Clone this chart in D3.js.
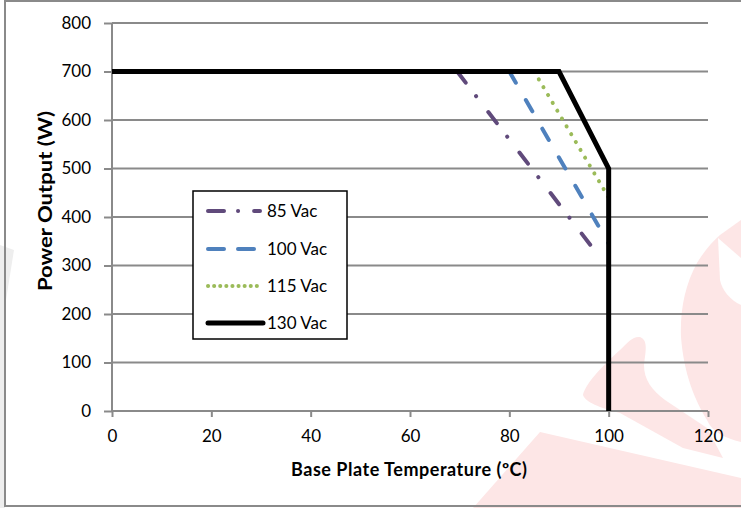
<!DOCTYPE html>
<html>
	<head>
		<meta charset="utf-8" />
		<title>Derating</title>
		<style type="text/css">
			body { margin: 0; background: #fff; }
			svg text { font-family: Lato, "Open Sans", sans-serif; fill: #000; }
		</style>
	</head>
	<body>
		<svg width="741" height="508"></svg>

		<script type="text/javascript" src="https://cdn.jsdelivr.net/npm/d3@7"></script>
		<script type="text/javascript">
			// data
			var xTicks = [0, 20, 40, 60, 80, 100, 120];
			var yTicks = [0, 100, 200, 300, 400, 500, 600, 700, 800];
			var seriesNames = ["85 Vac", "100 Vac", "115 Vac", "130 Vac"];
			var temp85 = [69.5, 98], power85 = [700, 320];
			var temp100 = [80, 100], power100 = [700, 345];
			var temp115 = [85, 100], power115 = [700, 440];
			var temp130 = [0, 90, 100, 100], power130 = [700, 700, 500, 0];

			var colors = ["#604a7b", "#4f81bd", "#9bbb59", "#000000"];
			var dashes = ["14,17,0.1,20", "13,20", "0.1,9", null];
			var widths = [4, 4, 4, 5];

			var svg = d3.select("svg");
			var x = d3.scaleLinear().domain([0, 120]).range([112, 708]);
			var y = d3.scaleLinear().domain([0, 800]).range([411, 23]);

			// faint logo watermark behind the chart
			var wm = svg.append("g").attr("fill", "#fde6e6");
			wm.append("path")
				.attr("d", "M720,235 L741,220 L741,442 C725,438 712,432 707,420 C695,400 684,375 681,337 C680,310 685,285 697,263 C705,250 712,242 720,235 Z");
			wm.append("path").attr("fill", "#fff")
				.attr("d", "M718,238 L741,258 L741,305 C730,300 722,290 720,280 Z");
			wm.append("path")
				.attr("d", "M583,395 C585,385 600,368 620,350 C628,342 633,336 640,337 C648,340 646,350 644,365 C644,380 652,390 665,400 L707,428 L723,458 L683,448 L620,413 C600,408 585,402 583,395 Z");
			wm.append("path")
				.attr("d", "M473,508 L540,432 L741,478 L741,508 Z");
			wm.append("path").attr("fill", "#eeeeee")
				.attr("d", "M0,245 L14,250 L6,300 L5,508 L0,508 Z");

			// outer frame
			svg.append("rect").attr("x", 5).attr("y", 1).attr("width", 745).attr("height", 505)
				.attr("fill", "none").attr("stroke", "#8a8a8a").attr("stroke-width", 2);

			// grid
			svg.append("g").selectAll("line").data(yTicks.filter(function(d) { return d > 0; }))
				.enter().append("line")
				.attr("x1", x(0)).attr("x2", x(120))
				.attr("y1", function(d) { return y(d); }).attr("y2", function(d) { return y(d); })
				.attr("stroke", "#8a8a8a").attr("stroke-width", 2);

			// axes
			var yAxis = svg.append("g").attr("transform", "translate(" + x(0) + ",0)")
				.call(d3.axisLeft(y).tickValues(yTicks).tickSize(8).tickPadding(13));
			var xAxis = svg.append("g").attr("transform", "translate(0," + y(0) + ")")
				.call(d3.axisBottom(x).tickValues(xTicks).tickSize(6).tickPadding(13));
			[yAxis, xAxis].forEach(function(a) {
				a.select(".domain").attr("stroke", "#8a8a8a").attr("stroke-width", 2);
				a.selectAll(".tick line").attr("stroke", "#8a8a8a").attr("stroke-width", 2);
				a.selectAll(".tick text").attr("font-size", 17).attr("font-family", "Lato");
			});
			xAxis.select(".domain").attr("d", "M" + x(0) + ",0H" + x(120));
			yAxis.select(".domain").attr("d", "M0," + y(0) + "V" + y(800));

			// series
			var line = d3.line().x(function(d) { return x(d[0]); }).y(function(d) { return y(d[1]); });
			var seriesData = [
				d3.zip(temp85, power85),
				d3.zip(temp100, power100),
				d3.zip(temp115, power115),
				d3.zip(temp130, power130)
			];
			seriesData.forEach(function(pts, i) {
				svg.append("path").datum(pts)
					.attr("d", line)
					.attr("fill", "none")
					.attr("stroke", colors[i])
					.attr("stroke-width", widths[i])
					.attr("stroke-linecap", i == 3 ? "butt" : "round")
					.attr("stroke-linejoin", "miter")
					.attr("stroke-dasharray", dashes[i]);
			});

			// legend
			var lg = svg.append("g");
			lg.append("rect").attr("x", 193).attr("y", 191).attr("width", 154).attr("height", 148)
				.attr("fill", "#fff").attr("stroke", "#000").attr("stroke-width", 1.5);
			var rowY = [211, 249, 286, 323];
			var legendDash = ["16,14,0.1,16", "16,14", "0.1,6", null];
			seriesNames.forEach(function(name, i) {
				lg.append("line").attr("x1", 208).attr("x2", i == 3 ? 263 : 260)
					.attr("y1", rowY[i]).attr("y2", rowY[i])
					.attr("stroke", colors[i]).attr("stroke-width", widths[i])
					.attr("stroke-linecap", "round")
					.attr("stroke-dasharray", legendDash[i]);
				lg.append("text").attr("x", 267).attr("y", rowY[i]).attr("dy", "0.35em")
					.attr("font-size", 17).text(name);
			});

			// axis titles
			svg.append("text").attr("x", 409).attr("y", 470).attr("dy", "0.35em")
				.attr("text-anchor", "middle").attr("font-size", 18).attr("font-weight", "bold")
				.attr("textLength", 236).attr("lengthAdjust", "spacing")
				.text("Base Plate Temperature (ºC)");
			svg.append("text").attr("transform", "translate(46,201) rotate(-90)")
				.attr("dy", "0.35em")
				.attr("text-anchor", "middle").attr("font-size", 18.5).attr("font-weight", "bold")
				.attr("textLength", 180).attr("lengthAdjust", "spacingAndGlyphs")
				.text("Power Output (W)");
		</script>
	</body>
</html>
